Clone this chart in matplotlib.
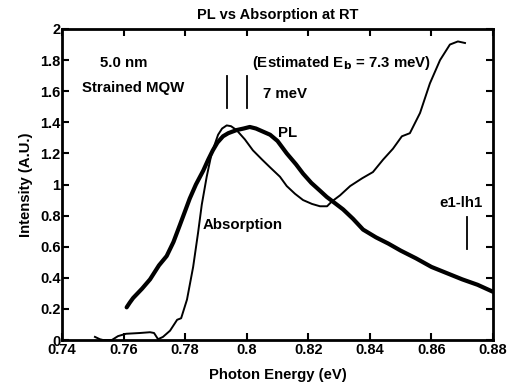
import matplotlib
matplotlib.use("Agg")
import matplotlib.pyplot as plt

# Data
pl_x = [0.7610, 0.7620, 0.7631, 0.7660, 0.7686, 0.7715, 0.7740, 0.7762, 0.7783, 0.7800,
        0.7815, 0.7835, 0.7859, 0.7875, 0.7890, 0.7905, 0.7923, 0.7940, 0.7967, 0.7990,
        0.8010, 0.8030, 0.8053, 0.8076, 0.8100, 0.8130, 0.8160, 0.8183, 0.8210, 0.8238,
        0.8260, 0.8280, 0.8313, 0.8345, 0.8378, 0.8420, 0.8460, 0.8500, 0.8550, 0.8600,
        0.8650, 0.8700, 0.8750, 0.8800]
pl_y = [0.21, 0.24, 0.27, 0.33, 0.39, 0.48, 0.54, 0.63, 0.74, 0.83,
        0.91, 1.00, 1.09, 1.16, 1.22, 1.27, 1.31, 1.33, 1.35, 1.36,
        1.37, 1.36, 1.34, 1.32, 1.28, 1.20, 1.13, 1.07, 1.01, 0.96,
        0.92, 0.89, 0.84, 0.78, 0.71, 0.66, 0.62, 0.575, 0.525, 0.47,
        0.43, 0.39, 0.355, 0.31]

abs_x = [0.7507, 0.7523, 0.7533, 0.7562, 0.7582, 0.7608, 0.7653, 0.7686, 0.7699, 0.7712,
         0.7728, 0.7751, 0.7774, 0.7787, 0.7806, 0.7826, 0.7842, 0.7854, 0.7870, 0.7886,
         0.7907, 0.7920, 0.7935, 0.7949, 0.7967, 0.7994, 0.8020, 0.8050, 0.8076, 0.8108,
         0.8130, 0.8157, 0.8183, 0.8212, 0.8238, 0.8261, 0.8276, 0.8303, 0.8336, 0.8375,
         0.8410, 0.8443, 0.8475, 0.8504, 0.8530, 0.8563, 0.8595, 0.8628, 0.8660, 0.8686,
         0.8709]
abs_y = [0.02, 0.005, 0.0, 0.0, 0.025, 0.04, 0.045, 0.05, 0.045, 0.005,
         0.02, 0.06, 0.13, 0.14, 0.26, 0.47, 0.69, 0.87, 1.05, 1.20,
         1.32, 1.36, 1.38, 1.375, 1.35, 1.29, 1.22, 1.16, 1.11, 1.05,
         0.99, 0.94, 0.90, 0.875, 0.86, 0.86, 0.89, 0.93, 0.99, 1.04,
         1.08, 1.16, 1.23, 1.31, 1.33, 1.46, 1.65, 1.80, 1.90, 1.92,
         1.91]

x_ticks = [0.74, 0.76, 0.78, 0.80, 0.82, 0.84, 0.86, 0.88]
x_tick_labels = ["0.74", "0.76", "0.78", "0.8", "0.82", "0.84", "0.86", "0.88"]
y_ticks = [0, 0.2, 0.4, 0.6, 0.8, 1.0, 1.2, 1.4, 1.6, 1.8, 2.0]
y_tick_labels = ["0", "0.2", "0.4", "0.6", "0.8", "1", "1.2", "1.4", "1.6", "1.8", "2"]

exciton_marks = [0.7936, 0.8001]
lh_mark = 0.8716

plt.rcParams['font.family'] = ['Liberation Sans', 'DejaVu Sans']
plt.rcParams['font.weight'] = 'bold'

fig = plt.figure(figsize=(5.07, 3.89), dpi=100)
ax = fig.add_axes([62/507, 49/389, 431/507, 311/389])

ax.plot(abs_x, abs_y, color='black', lw=1.4, solid_joinstyle='round')
ax.plot(pl_x, pl_y, color='black', lw=3.0, solid_joinstyle='round', solid_capstyle='round')

ax.set_xlim(0.74, 0.88)
ax.set_ylim(0, 2)
ax.set_xticks(x_ticks)
ax.set_xticklabels(x_tick_labels)
ax.set_yticks(y_ticks)
ax.set_yticklabels(y_tick_labels)
ax.tick_params(direction='in', length=5, width=1.5, top=True, right=True,
               labelsize=10.5, pad=1, color='black')
ax.tick_params(axis='x', pad=2)
for lab in ax.get_xticklabels() + ax.get_yticklabels():
    lab.set_fontweight('bold')
for s in ax.spines.values():
    s.set_linewidth(2)

# annotations
for xm in exciton_marks:
    ax.plot([xm, xm], [1.49, 1.70], color='black', lw=1.3)
ax.plot([lh_mark, lh_mark], [0.585, 0.79], color='black', lw=1.3)

fs = 10.8
ax.text(0.7523, 1.78, "5.0 nm", fontsize=fs, fontweight='bold', va='center', ha='left')
ax.text(0.7465, 1.62, "Strained MQW", fontsize=fs, fontweight='bold', va='center', ha='left')
ax.text(0.8017, 1.78, r"(Estimated E$_\mathbf{b}$ = 7.3 meV)", fontsize=fs, fontweight='bold',
        va='center', ha='left')
ax.text(0.8053, 1.58, "7 meV", fontsize=fs, fontweight='bold', va='center', ha='left')
ax.text(0.8102, 1.33, "PL", fontsize=fs, fontweight='bold', va='center', ha='left')
ax.text(0.7858, 0.74, "Absorption", fontsize=fs, fontweight='bold', va='center', ha='left')
ax.text(0.8696, 0.88, "e1-lh1", fontsize=fs, fontweight='bold', va='center', ha='center')

fig.text(278/507, 1 - 15/389, "PL vs Absorption at RT", fontsize=10.5, fontweight='bold',
         ha='center', va='center')
ax.set_xlabel("Photon Energy (eV)", fontsize=10.7, fontweight='bold', labelpad=8)
ax.set_ylabel("Intensity (A.U.)", fontsize=10.7, fontweight='bold', labelpad=5)

fig.savefig("out.png", dpi=100)
